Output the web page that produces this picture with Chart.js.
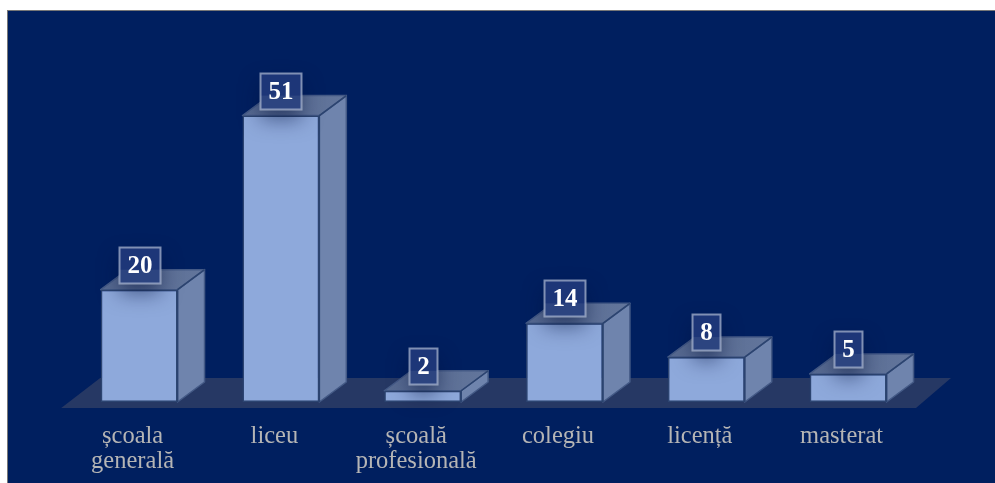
<!DOCTYPE html>
<html><head><meta charset="utf-8">
<script src="https://cdn.jsdelivr.net/npm/chart.js@4"></script>
<style>
html,body{margin:0;padding:0;background:#fff;width:995px;height:483px;overflow:hidden}
#panel{position:absolute;left:7px;top:10px;width:988px;height:473px;background:#001f5f;border-left:1px solid #777;border-top:1px solid #777;box-sizing:border-box}
canvas{position:absolute;left:0;top:0}
</style></head><body>
<div id="panel"></div>
<canvas id="c" width="995" height="483"></canvas>
<script>
const categories=[["școala","generală"],"liceu",["școală","profesională"],"colegiu","licență","masterat"];
const values=[20,51,2,14,8,5];
const tickValues=[0,60];

const DX=27,DY=20;
const depth3d={
  id:'depth3d',
  beforeDatasetsDraw(chart){
    const ctx=chart.ctx,a=chart.chartArea,y0=chart.scales.y.getPixelForValue(0);
    ctx.save();
    ctx.fillStyle='#263864';
    ctx.beginPath();
    ctx.moveTo(a.left-7,y0+6);
    ctx.lineTo(a.right-3,y0+6);
    ctx.lineTo(a.right+32,y0-24);
    ctx.lineTo(a.left+32,y0-24);
    ctx.closePath();ctx.fill();
    chart.getDatasetMeta(0).data.forEach(b=>{
      const l=b.x-b.width/2,r=b.x+b.width/2,t=b.y,bt=b.base;
      ctx.lineWidth=1.5;ctx.lineJoin='round';
      ctx.strokeStyle='#445a86';
      ctx.fillStyle='#6f84ad';
      ctx.beginPath();ctx.moveTo(r,t);ctx.lineTo(r+DX,t-DY);ctx.lineTo(r+DX,bt-DY);ctx.lineTo(r,bt);ctx.closePath();ctx.fill();ctx.stroke();
      const g=ctx.createLinearGradient(l,t-DY,r+DX,t);
      g.addColorStop(0,'#55688f');g.addColorStop(1,'#63769c');
      ctx.fillStyle=g;
      ctx.beginPath();ctx.moveTo(l,t);ctx.lineTo(l+DX,t-DY);ctx.lineTo(r+DX,t-DY);ctx.lineTo(r,t);ctx.closePath();ctx.fill();ctx.stroke();
      ctx.strokeStyle='#2c4470';
      ctx.beginPath();ctx.moveTo(r,t);ctx.lineTo(r+DX,t-DY);ctx.moveTo(r,t);ctx.lineTo(r,bt);ctx.stroke();
    });
    ctx.restore();
  },
  afterDatasetsDraw(chart){
    const ctx=chart.ctx;
    const meta=chart.getDatasetMeta(0);
    meta.data.forEach((b,i)=>{
      const txt=String(values[i]);
      ctx.save();
      ctx.font='bold 25px "Liberation Serif",serif';
      const w=txt.length>1?41:28,h=36;
      const x=Math.round(b.x-w/2)+.5,y=Math.round(b.y-7-h)+.5;
      ctx.save();
      ctx.shadowColor='rgba(0,15,60,0.5)';ctx.shadowBlur=20;ctx.shadowOffsetY=10;
      ctx.fillStyle='#001f5f';
      ctx.fillRect(x,y,w,h);
      ctx.restore();
      ctx.fillStyle='#1d3678';
      ctx.fillRect(x,y,w,h);
      const fy=Math.max(y,b.y-DY);
      ctx.fillStyle='rgba(100,120,160,0.22)';
      ctx.fillRect(x,fy,w,Math.max(0,y+h-fy));
      ctx.strokeStyle='rgba(205,213,230,0.6)';ctx.lineWidth=2;
      ctx.strokeRect(x,y,w,h);
      ctx.fillStyle='#fff';ctx.textAlign='center';ctx.textBaseline='middle';
      ctx.fillText(txt,x+w/2,y+h/2+1);
      ctx.restore();
    });
  }
};

new Chart(document.getElementById('c'),{
  type:'bar',
  data:{labels:categories,datasets:[{data:values,backgroundColor:'#8ea9db',borderColor:'#2c4470',borderWidth:1.5,borderSkipped:false,barPercentage:0.542,categoryPercentage:1}]},
  options:{
    responsive:false,animation:false,
    layout:{padding:{left:68.2,right:76,top:65,bottom:0}},
    plugins:{legend:{display:false},tooltip:{enabled:false}},
    scales:{
      y:{display:false,min:tickValues[0],max:tickValues[1]},
      x:{grid:{display:false},border:{display:false},
        afterFit(s){s.height=81},
        ticks:{color:'#b5b5b5',maxRotation:0,autoSkip:false,labelOffset:-6.5,padding:14,
          font:{family:'"Liberation Serif",serif',size:24.5,lineHeight:1.03}}}
    }
  },
  plugins:[depth3d]
});
</script>
</body></html>
